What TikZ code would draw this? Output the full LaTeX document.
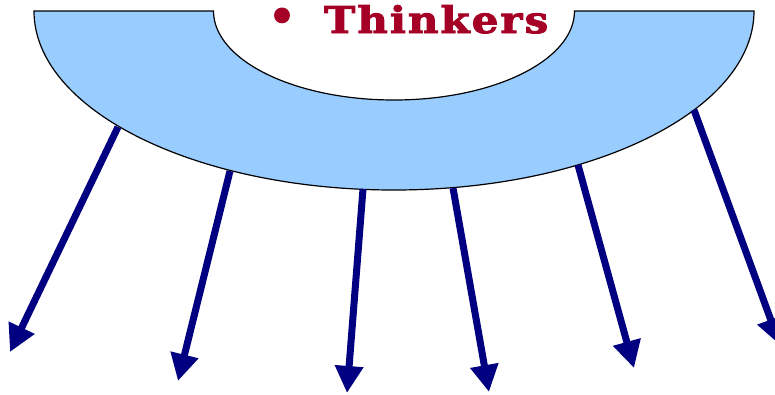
\documentclass[tikz,border=0pt]{standalone}
\usepackage{fontspec}
\usepackage{graphicx}
\newfontfamily\thinkfont{DejaVu Serif}[BoldFeatures={FakeBold=2.5, LetterSpace=5}]
\usetikzlibrary{arrows.meta}
\definecolor{bandblue}{HTML}{99CCFF}
\definecolor{arrownavy}{HTML}{000080}
\definecolor{thinkred}{HTML}{A50026}
\tikzset{
  band/.style={fill=bandblue, draw=black, line width=1.2pt, line join=miter},
  outarrow/.style={draw=arrownavy, line width=7pt, -{Triangle[length=27pt, width=27pt]}},
  title/.style={inner sep=0pt, text=thinkred, font=\thinkfont\bfseries}
}
\begin{document}
\begin{tikzpicture}[x=1pt, y=-1pt]
\useasboundingbox (0,0) rectangle (775,394);
% half band
\path[band] (34,11) arc[start angle=180, end angle=0, x radius=360, y radius=179]
  -- (574.5,11) arc[start angle=0, end angle=180, x radius=180.5, y radius=89] -- cycle;
% title
\node[title, anchor=base] (bullet) at (282,31) {\fontsize{42}{42}\selectfont •};
\node[title, anchor=base west] (thinkers) at (324,33) {\resizebox{224pt}{28pt}{Thinkers}};
% arrow start points on the band edge
\coordinate (s1) at (118,127);
\coordinate (s2) at (230,171);
\coordinate (s3) at (363,189);
\coordinate (s4) at (453,188);
\coordinate (s5) at (578,165);
\coordinate (s6) at (694,110);
% arrow tips
\coordinate (t1) at (10,352);
\coordinate (t2) at (178,381);
\coordinate (t3) at (347,393);
\coordinate (t4) at (489,392);
\coordinate (t5) at (634,368);
\coordinate (t6) at (780,345);
\foreach \i in {1,...,6} {\draw[outarrow] (s\i) -- (t\i);}
\end{tikzpicture}
\end{document}
